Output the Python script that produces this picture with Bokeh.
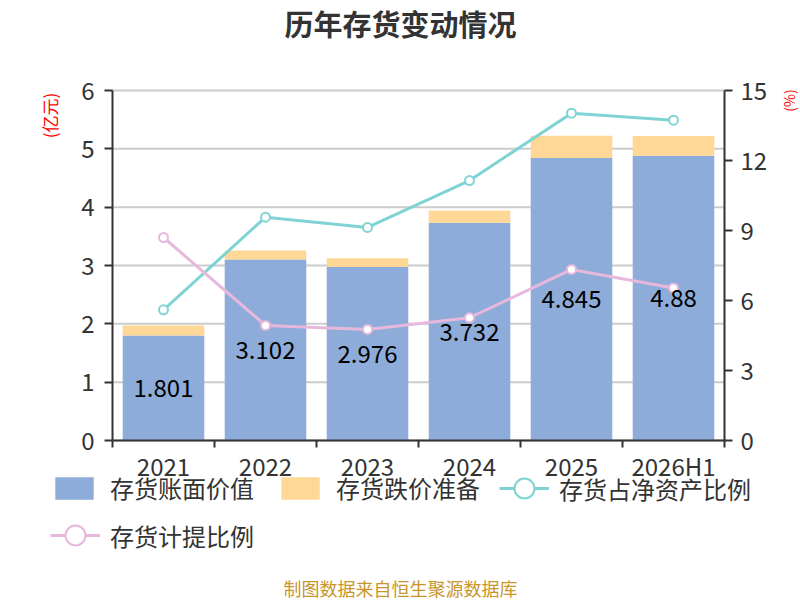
import numpy as np
from bokeh.plotting import figure
from bokeh.models import (Range1d, LinearAxis, FixedTicker, Legend, LegendItem, Label,
                          ColumnDataSource, CustomJSTickFormatter)
from bokeh.embed import file_html
from bokeh.resources import INLINE
from bokeh.core.properties import value

# ---- data ----
categories = ["2021", "2022", "2023", "2024", "2025", "2026H1"]
book_value = [1.801, 3.102, 2.976, 3.732, 4.845, 4.88]          # 亿元
impairment_reserve = [0.17, 0.155, 0.15, 0.21, 0.38, 0.34]       # 亿元
inventory_to_net_assets = [5.6, 9.57, 9.13, 11.14, 14.03, 13.73]  # %
provision_ratio = [8.7, 4.93, 4.76, 5.26, 7.33, 6.54]             # %
left_ticks = [0, 1, 2, 3, 4, 5, 6]
right_ticks = [0, 3, 6, 9, 12, 15]

FONT = "Noto Sans CJK SC"
BLUE = "#8eacd9"
ORANGE = "#ffd796"
CYAN = "#80d3d5"
PINK = "#e8b8dc"
DARK = "#333333"

# ---- layout (pixels) ----
W, H = 800, 600
PL, PR, PT, PB = 112, 724, 90, 440      # plot area edges on the page

n = len(categories)
centers = [i + 0.5 for i in range(n)]
bounds = list(range(n + 1))
stack_top = [b + r for b, r in zip(book_value, impairment_reserve)]

# ranges so that the whole canvas is the frame and the plot area sits at PL..PR, PT..PB
xpp = (PR - PL) / n
ylo, yhi = left_ticks[0], left_ticks[-1]
ypp = (PB - PT) / (yhi - ylo)
rlo, rhi = right_ticks[0], right_ticks[-1]
rpp = (PB - PT) / (rhi - rlo)
x_range = Range1d(-PL / xpp, n + (W - PR) / xpp)
y_range = Range1d(ylo - (H - PB) / ypp, yhi + PT / ypp)
r_range = Range1d(rlo - (H - PB) / rpp, rhi + PT / rpp)

src = ColumnDataSource(dict(
    x=centers, book=book_value, zero=[0] * n, top=stack_top,
    pct=inventory_to_net_assets, prov=provision_ratio,
    lab_y=[v / 2 for v in book_value], lab=[f"{v:g}" for v in book_value],
))

p = figure(width=W, height=H, output_backend="svg", toolbar_location=None,
           x_range=x_range, y_range=y_range,
           min_border=0, min_border_left=0, min_border_right=0,
           min_border_top=0, min_border_bottom=0)
p.extra_y_ranges = {"pct": r_range}
p.outline_line_color = None
p.background_fill_color = "white"
p.border_fill_color = "white"
p.xgrid.visible = False
p.ygrid.visible = False

# horizontal grid lines at left ticks
p.segment(x0=[0] * len(left_ticks), x1=[n] * len(left_ticks), y0=left_ticks, y1=left_ticks,
          line_color="#cccccc", line_width=2)

# x axis (fixed at y = 0)
xa = p.xaxis[0]
xa.fixed_location = 0
xa.bounds = (0, n)
xa.ticker = FixedTicker(ticks=centers, minor_ticks=bounds)
xa.formatter = CustomJSTickFormatter(args=dict(labels=categories),
                                     code="return labels[Math.floor(tick)];")
xa.major_tick_line_color = None
xa.major_tick_out = 0
xa.major_tick_in = 0
xa.minor_tick_line_color = DARK
xa.minor_tick_line_width = 2
xa.minor_tick_out = 7
xa.minor_tick_in = 0
xa.axis_line_color = DARK
xa.axis_line_width = 2
xa.major_label_standoff = 0
xa.major_label_text_font = FONT
xa.major_label_text_font_size = "24px"
xa.major_label_text_color = DARK

# left y axis (fixed at x = 0)
ya = p.yaxis[0]
ya.fixed_location = 0
ya.bounds = (ylo, yhi)
ya.ticker = FixedTicker(ticks=left_ticks)
ya.minor_tick_line_color = None
ya.major_tick_out = 8
ya.major_tick_in = 0
ya.major_tick_line_color = DARK
ya.major_tick_line_width = 2
ya.axis_line_color = DARK
ya.axis_line_width = 2
ya.major_label_standoff = 10
ya.major_label_text_font = FONT
ya.major_label_text_font_size = "24px"
ya.major_label_text_color = DARK

# right y axis (fixed at x = n)
ra = LinearAxis(y_range_name="pct", ticker=FixedTicker(ticks=right_ticks),
                fixed_location=n, bounds=(rlo, rhi))
ra.minor_tick_line_color = None
ra.major_tick_out = 8
ra.major_tick_in = 0
ra.major_tick_line_color = DARK
ra.major_tick_line_width = 2
ra.axis_line_color = DARK
ra.axis_line_width = 2
ra.major_label_standoff = 8
ra.major_label_text_font = FONT
ra.major_label_text_font_size = "24px"
ra.major_label_text_color = DARK
p.add_layout(ra, "right")

# bars
b1 = p.vbar(x="x", width=0.8, bottom="zero", top="book", source=src,
            fill_color=BLUE, line_color=None)
b2 = p.vbar(x="x", width=0.8, bottom="book", top="top", source=src,
            fill_color=ORANGE, line_color=None)

# lines
l1 = p.line(x="x", y="pct", source=src, y_range_name="pct", line_color=CYAN, line_width=3)
s1 = p.scatter(x="x", y="pct", source=src, y_range_name="pct", size=9,
               fill_color="white", line_color=CYAN, line_width=2)
l2 = p.line(x="x", y="prov", source=src, y_range_name="pct", line_color=PINK, line_width=3)
s2 = p.scatter(x="x", y="prov", source=src, y_range_name="pct", size=9,
               fill_color="white", line_color=PINK, line_width=2)

# bar value labels
p.text(x="x", y="lab_y", text="lab", source=src, text_align="center", text_baseline="middle",
       text_font=value(FONT), text_font_size="24px", text_color="black")

# legends
def mk_legend(items, loc, gw, gh, standoff):
    lg = Legend(items=items, location=loc, orientation="horizontal",
                glyph_width=gw, glyph_height=gh,
                label_text_font=FONT, label_text_font_size="24px", label_text_color=DARK,
                label_standoff=standoff, padding=0, margin=0, spacing=22,
                border_line_color=None, background_fill_alpha=0)
    p.add_layout(lg)

mk_legend([LegendItem(label="存货账面价值", renderers=[b1]),
           LegendItem(label="存货跌价准备", renderers=[b2])], (50, H - 488 - 17), 48, 28, 12)
mk_legend([LegendItem(label="存货占净资产比例", renderers=[l1, s1])],
          (499, H - 488 - 28), 50, 56, 10)
mk_legend([LegendItem(label="存货计提比例", renderers=[l2, s2])],
          (50, H - 535 - 28), 50, 56, 10)

# texts
def mk_label(text, x, y, size, color, angle=0.0, bold=False, font=FONT):
    p.add_layout(Label(x=x, y=H - y, x_units="screen", y_units="screen", text=text,
                       angle=angle, text_align="center", text_baseline="middle",
                       text_font=font, text_font_size=size,
                       text_font_style="bold" if bold else "normal", text_color=color))

mk_label("历年存货变动情况", 400, 22, "29px", DARK, bold=True)
mk_label("(亿元)", 49, 115, "17px", "red", angle=np.pi / 2)
mk_label("(%)", 788, 100, "14px", "red", angle=np.pi / 2)
mk_label("制图数据来自恒生聚源数据库", 400, 587, "18px", "#c8962a")

open("out.html", "w").write(file_html(p, INLINE))
